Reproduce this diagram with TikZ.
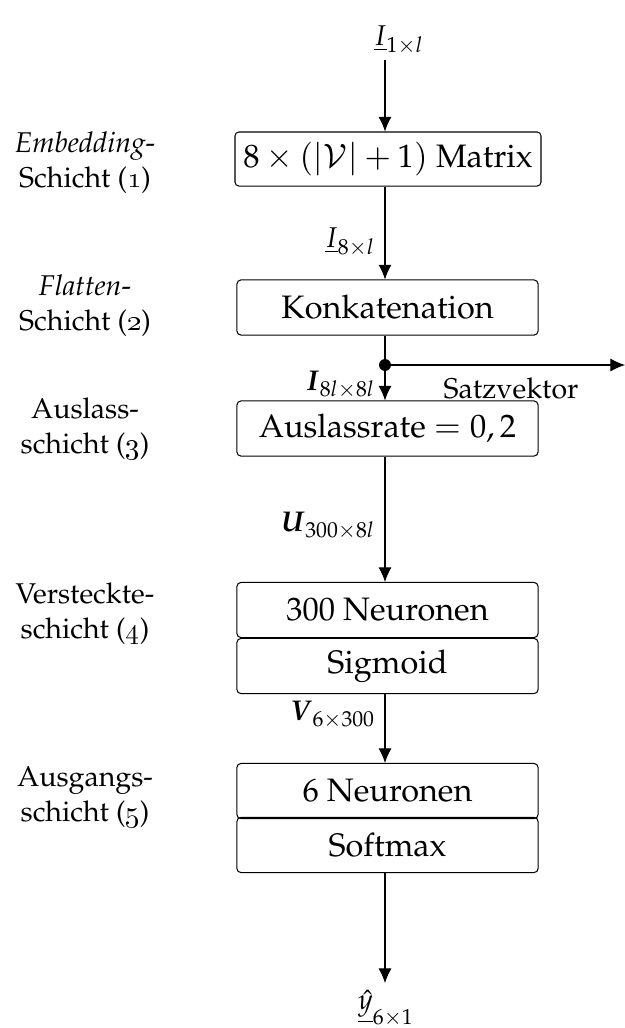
\documentclass[tikz,border=0pt]{standalone}
\usepackage[T1]{fontenc}
\usepackage{mathpazo}
\usepackage{amsmath}
\usetikzlibrary{arrows.meta,calc}
\begin{document}
\begin{tikzpicture}[x=0.385pt,y=-0.385pt,
  layerbox/.style={draw,rounded corners=1.5pt,minimum width=115.9pt,minimum height=21.2pt,inner sep=0pt,font=\fontsize{12.5}{15}\selectfont},
  flow/.style={-{Latex[length=5.6pt,width=5pt]}},
  side/.style={align=center,font=\fontsize{11}{13.5}\selectfont},
  wlabel/.style={anchor=east,inner sep=0pt,font=\fontsize{11}{13.5}\selectfont}]
\useasboundingbox (0,0) rectangle (625,1028);
\coordinate (col) at (385,0);
% input and layer boxes
\node[font=\fontsize{11}{13.5}\selectfont] (in) at (399,40) {$\underline{I}_{1\times l}$};
\node[layerbox,minimum width=117.8pt,minimum height=20.8pt] (emb) at (388,159) {$8\times(|\mathcal{V}|+1)$ Matrix};
\node[layerbox] (flat) at (387.5,307.5) {Konkatenation};
\node[layerbox] (drop) at (387.5,428.5) {Auslassrate $=0,2$};
\node[layerbox] (hid) at (387.5,610) {300 Neuronen};
\node[layerbox] (sig) at (387.5,666) {Sigmoid};
\node[layerbox] (outl) at (387.5,791) {6 Neuronen};
\node[layerbox] (soft) at (387.5,845) {Softmax};
\node[font=\fontsize{11}{13.5}\selectfont] (yhat) at (386,1008) {$\underline{\hat{y}}_{6\times 1}$};
% layer descriptions
\node[side] (d1) at (85,163) {\textit{Embedding}-\\Schicht (\oldstylenums{1})};
\node[side] (d2) at (85,306) {\textit{Flatten}-\\Schicht (\oldstylenums{2})};
\node[side] (d3) at (85,429) {Auslass-\\schicht (\oldstylenums{3})};
\node[side] (d4) at (85,614) {Versteckte-\\schicht (\oldstylenums{4})};
\node[side] (d5) at (85,797) {Ausgangs-\\schicht (\oldstylenums{5})};
% connectors
\coordinate (top) at (385,60);
\coordinate (split) at (385,365);
\coordinate (vec) at (625,365);
\coordinate (bottom) at (385,983);
\draw[flow] (top) -- (emb.north -| col);
\draw[flow] (emb.south -| col) -- node[wlabel,pos=0.6,xshift=-3.5pt] {$\underline{I}_{8\times l}$} (flat.north -| col);
\draw (flat.south -| col) -- (split);
\draw[flow] (split) -- node[wlabel,pos=0.55,xshift=-3.5pt] {$\boldsymbol{I}_{8l\times 8l}$} (drop.north -| col);
\fill (split) circle (2.3pt);
\draw[flow] (split) -- (vec);
\node[font=\fontsize{11}{13.5}\selectfont] (sv) at (511,388) {Satzvektor};
\draw[flow] (drop.south -| col) -- node[wlabel,pos=0.55,xshift=-3.5pt] {$\boldsymbol{U}_{300\times 8l}$} (hid.north -| col);
\draw[flow] (sig.south -| col) -- node[wlabel,pos=0.3,xshift=-3.5pt] {$\boldsymbol{V}_{6\times 300}$} (outl.north -| col);
\draw[flow] (soft.south -| col) -- (bottom);
\end{tikzpicture}
\end{document}
